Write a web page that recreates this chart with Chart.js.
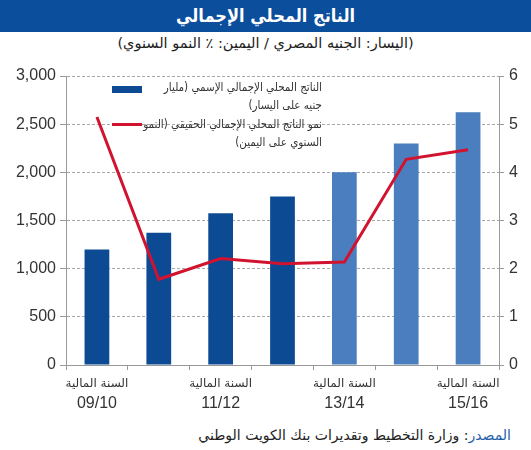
<!DOCTYPE html>
<html lang="ar">
<head>
<meta charset="utf-8">
<script src="https://cdn.jsdelivr.net/npm/chart.js@4/dist/chart.umd.min.js"></script>
<style>
  html, body { margin: 0; padding: 0; background: #fff; }
  body { width: 531px; height: 450px; position: relative; overflow: hidden; font-family: "Liberation Sans", "DejaVu Sans", sans-serif; }
  #title { position: absolute; left: 0; top: 0; width: 531px; height: 32px; background: #0B4E9B; color: #fff;
           font: bold 18px "DejaVu Sans Condensed", "DejaVu Sans", sans-serif; text-align: center; line-height: 32px; direction: rtl; }
  #subtitle { position: absolute; left: 0; top: 35px; width: 531px; text-align: center; font: 14.5px "DejaVu Sans", sans-serif;
              color: #222; direction: rtl; }
  #wrap { position: absolute; left: 0; top: 60px; width: 531px; height: 360px; }
  .ltxt { position: absolute; right: 209px; direction: rtl; text-align: right; white-space: nowrap;
          font: 11.5px "DejaVu Sans Condensed", "DejaVu Sans", sans-serif; color: #333; line-height: 18px; }
  .sw { position: absolute; left: 112px; width: 30px; }
  #source { position: absolute; right: 20px; top: 427px; direction: rtl; font: 14px "DejaVu Sans", sans-serif; color: #222; }
  #source span { color: #1E5FA8; }
</style>
</head>
<body>
<div id="title">الناتج المحلي الإجمالي</div>
<div id="subtitle">(اليسار: الجنيه المصري / اليمين: ٪ النمو السنوي)</div>
<div id="wrap"><canvas id="c"></canvas></div>
<div class="ltxt" style="top:78px">الناتج المحلي الإجمالي الإسمي (مليار<br>جنيه على اليسار)</div>
<div class="sw" style="top:86px;height:7px;background:#0C4A94"></div>
<div class="ltxt" style="top:115px">نمو الناتج المحلي الإجمالي الحقيقي (النمو<br>السنوي على اليمين)</div>
<div class="sw" style="top:123px;height:3px;background:#D2132F"></div>
<div id="source"><span>المصدر</span>: وزارة التخطيط وتقديرات بنك الكويت الوطني</div>
<script>
const categories = ['09/10', '10/11', '11/12', '12/13', '13/14', '14/15', '15/16'];
const yearPrefix = 'السنة المالية';
const gdpNominal = [1200, 1372, 1575, 1750, 2000, 2300, 2625];
const gdpGrowth = [5.15, 1.78, 2.21, 2.10, 2.14, 4.27, 4.47];
const barColors = ['#0C4A94', '#0C4A94', '#0C4A94', '#0C4A94', '#4A7EBF', '#4A7EBF', '#4A7EBF'];
const leftTicks = [0, 500, 1000, 1500, 2000, 2500, 3000];
const rightTicks = [0, 1, 2, 3, 4, 5, 6];

const xLabels = {
  id: 'xLabels',
  afterDraw(chart) {
    const ctx = chart.ctx, x = chart.scales.x, area = chart.chartArea;
    ctx.save();
    ctx.textAlign = 'center';
    ctx.fillStyle = '#333';
    categories.forEach((c, i) => {
      if (i % 2) return;
      const px = x.getPixelForValue(i);
      ctx.font = '12px "DejaVu Sans", sans-serif';
      ctx.textBaseline = 'middle';
      ctx.fillText(yearPrefix, px, area.bottom + 19);
      ctx.font = '16px "Liberation Sans", Arial, sans-serif';
      ctx.fillText(c, px, area.bottom + 39);
    });
    ctx.restore();
  }
};

new Chart(document.getElementById('c'), {
  data: {
    labels: categories,
    datasets: [
      { type: 'line', label: 'growth', data: gdpGrowth, yAxisID: 'y1', borderColor: '#D2132F', borderWidth: 3,
        pointRadius: 0, tension: 0, fill: false, order: 0 },
      { type: 'bar', label: 'gdp', data: gdpNominal, yAxisID: 'y', backgroundColor: barColors,
        categoryPercentage: 0.8, barPercentage: 0.5, order: 1 }
    ]
  },
  options: {
    responsive: true, maintainAspectRatio: false, animation: false,
    devicePixelRatio: 1,
    layout: { padding: { top: 16, left: 0, right: 0, bottom: 0 } },
    plugins: { legend: { display: false }, tooltip: { enabled: false } },
    scales: {
      x: {
        grid: { offset: true, drawOnChartArea: false, drawTicks: true, tickLength: 5, color: '#999' },
        border: { color: '#999' },
        ticks: { display: false },
        afterFit(s) { s.height = 55; }
      },
      y: {
        position: 'left', min: 0, max: 3000,
        afterBuildTicks(s) { s.ticks = leftTicks.map(v => ({ value: v })); },
        grid: { color: '#a8a8a8', tickLength: 6, borderDash: [3, 2], tickBorderDash: [], tickColor: '#999' },
        border: { color: '#999', dash: [3, 2] },
        ticks: { color: '#333', font: { family: '"Liberation Sans", Arial, sans-serif', size: 16 }, padding: 4,
                 callback: v => v.toLocaleString('en-US') },
        afterFit(s) { s.width = 66; }
      },
      y1: {
        position: 'right', min: 0, max: 6,
        afterBuildTicks(s) { s.ticks = rightTicks.map(v => ({ value: v })); },
        grid: { drawOnChartArea: false, tickLength: 5, color: '#999' },
        border: { color: '#999' },
        ticks: { color: '#333', font: { family: '"Liberation Sans", Arial, sans-serif', size: 16 }, padding: 5 },
        afterFit(s) { s.width = 32; }
      }
    }
  },
  plugins: [xLabels]
});
</script>
</body>
</html>
